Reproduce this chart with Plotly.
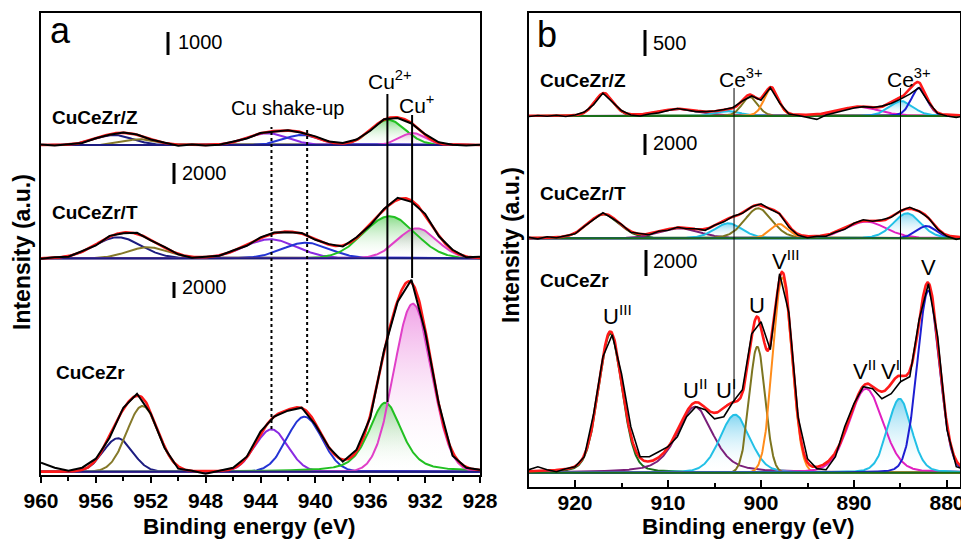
import numpy as np
import plotly.graph_objects as go

# ======================= DATA =======================
# ---- Panel a : Cu 2p region (binding energy, eV) ----
a_energy = list(range(960, 927, -1))            # 960 ... 928 eV
a_Z_counts = [20, -20, 35, 85, 295, 445, 545, 455, 240, 100, -35, 20, -25, 15, 140, 285,
              520, 585, 645, 535, 375, 150, 85, 240, 620, 1120, 1175, 935, 470, 120, 15, -20, 15]
a_T_counts = [-50, 95, 145, 715, 1220, 2140, 2380, 2430, 1715, 1095, 380, 50, 170, 240, 745, 1190,
              2000, 2455, 2475, 2420, 1760, 1350, 1125, 2000, 3140, 4710, 5760, 5380, 4240, 2095, 810, 95, 145]
a_C_counts = [1125, 500, 125, 500, 1625, 4250, 8000, 9750, 7250, 3000, 375, 125, -250, 125, 500, 1875,
              5000, 6875, 7625, 8000, 5875, 3000, 1250, 2750, 6750, 15125, 21250, 24000, 17500, 8500, 2000, 500, 250]

# fitted components (order: 2p1/2 a, 2p1/2 b, sat 1, sat 2, Cu2+, Cu+)
a_Z_center = [954.7, 952.8, 943.5, 941.0, 934.7, 932.9]
a_Z_height = [435, 250, 510, 435, 1090, 520]
a_Z_fwhm = [3.2, 2.8, 3.5, 3.0, 3.0, 2.2]
a_Z_mix = [0, 0, 0, 0, 0, 0]

a_T_center = [954.4, 952.2, 943.3, 940.7, 934.6, 932.6]
a_T_height = [2000, 1050, 1810, 1485, 4000, 2855]
a_T_fwhm = [4.0, 3.5, 4.5, 4.0, 4.4, 3.4]
a_T_mix = [0, 0, 0, 0, 0, 0]

a_C_center = [954.4, 952.6, 943.2, 940.8, 934.9, 932.9]
a_C_height = [4175, 8210, 5300, 6875, 8625, 21000]
a_C_fwhm = [2.5, 2.7, 2.8, 3.0, 2.8, 3.2]
a_C_mix = [0, 0, 0, 0, 0.5, 0]

# ---- Panel b : Ce 3d region ----
b_energy = list(range(925, 877, -1))            # 925 ... 878 eV
b_Z_counts = [-10, 10, -5, 15, -10, 20, 75, 220, 440, 270, 105, 20, 0, 40, 60, 105, 145, 115, 85, 85,
              95, 125, 165, 290, 385, 305, 545, 250, 40, 10, -30, -65, 20, 65, 115, 155, 180, 165, 190,
              240, 325, 420, 545, 270, 50, 0, -30, 10]
b_T_counts = [95, -50, 145, 50, 240, 430, 1140, 1760, 2430, 1905, 1335, 570, 430, 335, 665, 760, 1045,
              905, 905, 760, 1240, 1570, 2095, 2380, 3000, 3285, 2760, 2335, 1045, 285, 50, 190, 190,
              570, 855, 1430, 1760, 1620, 1760, 2000, 2620, 2950, 2570, 1950, 855, 190, -95, 95]
b_C_counts = [230, 460, 230, 75, 310, 460, 1230, 4540, 8920, 10610, 7610, 3540, 1230, 1230, 1615, 2000,
              2770, 4310, 5075, 4845, 4150, 4310, 5460, 6380, 10690, 11610, 9460, 15300, 12300, 4230,
              1075, 310, 230, 1230, 3540, 5310, 6610, 6460, 5690, 6075, 7000, 7380, 11770, 14530,
              10460, 3310, 460, 230]

# components: U''', U'', U', U, V''', V'', V', V
b_Z_center = [916.9, 908.7, 903.5, 901.2, 898.9, 889.4, 884.9, 883.0]
b_Z_height = [436, 134, 96, 365, 528, 173, 288, 538]
b_Z_fwhm = [2.4, 5.0, 3.0, 2.0, 1.8, 5.0, 3.0, 2.0]
b_Z_mix = [0.2, 0.3, 0.2, 0.2, 0.2, 0.3, 0.2, 0.2]

b_T_center = [916.9, 908.7, 903.5, 900.3, 898.0, 888.7, 884.3, 882.2]
b_T_height = [2285, 950, 1430, 2855, 1360, 1590, 2380, 1170]
b_T_fwhm = [4.0, 5.0, 3.5, 3.5, 2.3, 5.0, 3.5, 2.5]
b_T_mix = [0.2, 0.2, 0.2, 0.2, 0.2, 0.2, 0.2, 0.2]

b_C_center = [916.2, 907.1, 902.8, 900.4, 897.7, 888.7, 885.1, 882.0]
b_C_height = [10690, 5075, 4460, 9690, 15000, 6460, 5690, 14000]
b_C_fwhm = [3.0, 4.5, 3.8, 2.0, 2.4, 4.3, 3.0, 2.8]
b_C_mix = [0.2, 0.5, 0.2, 0.0, 0.0, 0.2, 0.2, 0.1]

sample_names = ["CuCeZr/Z", "CuCeZr/T", "CuCeZr"]
a_scale_bar_counts = [1000, 2000, 2000]
b_scale_bar_counts = [500, 2000, 2000]
a_tick_labels = ["960", "956", "952", "948", "944", "940", "936", "932", "928"]
b_tick_labels = ["920", "910", "900", "890", "880"]

# ======================= STYLE / LAYOUT =======================
W, H = 961, 540
FONT = "Liberation Sans, Arial, Helvetica, sans-serif"

# display scaling (pixels of axis per count) and vertical offsets of the stacked spectra
a_scale = [0.023, 0.0105, 0.008]
a_offset = [330, 216.7, 3.3]
b_scale = [0.052, 0.0105, 0.013]
b_offset = [371, 248.7, 14.3]

a_colors = ["#1c1c80", "#85792a", "#8a2be2", "#2434d4", "#22c022", "#e040c8"]
a_fills = [
    [None, None, None, None, "rgba(40,190,40,0.55)", "rgba(225,70,205,0.40)"],
    [None, None, None, None, "rgba(40,190,40,0.55)", "rgba(140,140,140,0.55)"],
    [None, None, None, None, "rgba(40,190,40,0.55)", "rgba(225,70,205,0.50)"],
]
b_colors = ["#1a6e1a", "#7a1f7a", "#22c0e6", "#7d7520", "#ff8c1a", "#e020c0", "#22c0e6", "#1e1ed2"]
cy = "rgba(30,180,230,0.55)"
b_fills = [[None, None, cy, None, None, None, cy, None]] * 3


def pv(x, c, h, w, m):
    d = (x - c) / w
    return h * ((1 - m) * np.exp(-4 * np.log(2) * d ** 2) + m / (1 + 4 * d ** 2))


fig = go.Figure()


def add_spectrum(xa, ya, grid, energy, counts, centers, heights, fwhms, mixes,
                 colors, fills, offset, scale, base_color, exp_width):
    base = np.full_like(grid, offset)
    curves = []
    for c, h, w, m in zip(centers, heights, fwhms, mixes):
        curves.append(pv(grid, c, h, w, m))
    total = np.sum(curves, axis=0)
    for y, fc in zip(curves, fills):
        if fc:
            fig.add_trace(go.Scatter(
                x=np.r_[grid, grid[::-1]], y=np.r_[offset + y * scale, base[::-1]],
                fill="toself", mode="none",
                fillgradient=dict(type="vertical",
                                  colorscale=[[0, "rgba(255,255,255,0)"], [1, fc]]),
                xaxis=xa, yaxis=ya, hoverinfo="skip", showlegend=False))
    for y, col in zip(curves, colors):
        fig.add_trace(go.Scatter(x=grid, y=offset + y * scale, mode="lines",
                                 line=dict(color=col, width=2), xaxis=xa, yaxis=ya,
                                 hoverinfo="skip", showlegend=False))
    fig.add_trace(go.Scatter(x=grid, y=base, mode="lines", line=dict(color=base_color, width=2),
                             xaxis=xa, yaxis=ya, hoverinfo="skip", showlegend=False))
    fig.add_trace(go.Scatter(x=grid, y=offset + total * scale, mode="lines",
                             line=dict(color="#ff1a1a", width=2.6), xaxis=xa, yaxis=ya,
                             hoverinfo="skip", showlegend=False))
    fig.add_trace(go.Scatter(x=energy, y=offset + np.array(counts) * scale, mode="lines",
                             line=dict(color="black", width=exp_width), xaxis=xa, yaxis=ya,
                             hoverinfo="skip", showlegend=False))


grid_a = np.linspace(928, 960, 641)
grid_b = np.linspace(878, 925, 941)

a_sets = [
    (a_Z_counts, a_Z_center, a_Z_height, a_Z_fwhm, a_Z_mix),
    (a_T_counts, a_T_center, a_T_height, a_T_fwhm, a_T_mix),
    (a_C_counts, a_C_center, a_C_height, a_C_fwhm, a_C_mix),
]
for i, (cnt, c, h, w, m) in enumerate(a_sets):
    add_spectrum("x", "y", grid_a, a_energy, cnt, c, h, w, m, a_colors, a_fills[i],
                 a_offset[i], a_scale[i], "#1c1c80", 2)

b_sets = [
    (b_Z_counts, b_Z_center, b_Z_height, b_Z_fwhm, b_Z_mix),
    (b_T_counts, b_T_center, b_T_height, b_T_fwhm, b_T_mix),
    (b_C_counts, b_C_center, b_C_height, b_C_fwhm, b_C_mix),
]
for i, (cnt, c, h, w, m) in enumerate(b_sets):
    add_spectrum("x2", "y2", grid_b, b_energy, cnt, c, h, w, m, b_colors, b_fills[i],
                 b_offset[i], b_scale[i], "#1a6e1a", 1.6)


def px(x):
    return x / W


def py(y):
    return 1 - y / H


# -------- axes --------
ax_common = dict(showline=True, linecolor="black", linewidth=2, mirror=True,
                 showgrid=False, zeroline=False, automargin=False)
fig.update_layout(
    xaxis=dict(domain=[px(41), px(480)], range=[960, 928], anchor="y",
               tickmode="array", tickvals=[int(t) for t in a_tick_labels], ticktext=a_tick_labels,
               ticks="outside", ticklen=6, tickwidth=2, tickcolor="black",
               minor=dict(ticks="outside", ticklen=4, tickwidth=1.5, tickcolor="black",
                          tickmode="linear", tick0=928, dtick=2),
               ticklabeloverflow="allow",
               tickfont=dict(family=FONT, size=21, color="black", weight="bold"), **ax_common),
    yaxis=dict(domain=[1 - 475 / H, 1 - 13 / H], range=[0, 462], anchor="x",
               showticklabels=False, ticks="", **ax_common),
    xaxis2=dict(domain=[px(529), px(960)], range=[924.95, 878.6], anchor="y2",
                tickmode="array", tickvals=[int(t) for t in b_tick_labels], ticktext=b_tick_labels,
                ticks="inside", ticklen=7, tickwidth=2, tickcolor="black",
                minor=dict(ticks="inside", ticklen=4, tickwidth=1.5, tickcolor="black",
                           tickmode="linear", tick0=880, dtick=5),
                ticklabelstandoff=-4, ticklabeloverflow="allow",
                tickfont=dict(family=FONT, size=21, color="black", weight="bold"), **ax_common),
    yaxis2=dict(domain=[1 - 487 / H, 1 - 13 / H], range=[0, 474], anchor="x2",
                showticklabels=False, ticks="", **ax_common),
    width=W, height=H, margin=dict(l=0, r=0, t=0, b=0, pad=0, autoexpand=False),
    paper_bgcolor="white", plot_bgcolor="white", showlegend=False,
    font=dict(family=FONT, color="black"),
)

shapes = []
# scale bars (length = bar counts * display scale)
a_bar_px = [168, 174, 174]
a_bar_bottom = [420, 291, 177]
for i in range(3):
    shapes.append(dict(type="line", xref="paper", yref="y", x0=px(a_bar_px[i]), x1=px(a_bar_px[i]),
                       y0=a_bar_bottom[i], y1=a_bar_bottom[i] + a_scale_bar_counts[i] * a_scale[i],
                       line=dict(color="black", width=3)))
b_bar_px = [645, 645, 646]
b_bar_bottom = [431, 332, 211]
for i in range(3):
    shapes.append(dict(type="line", xref="paper", yref="y2", x0=px(b_bar_px[i]), x1=px(b_bar_px[i]),
                       y0=b_bar_bottom[i], y1=b_bar_bottom[i] + b_scale_bar_counts[i] * b_scale[i],
                       line=dict(color="black", width=3)))
# reference lines panel a
shapes += [
    dict(type="line", xref="x", yref="y", x0=943.2, x1=943.2, y0=46, y1=348,
         line=dict(color="black", width=2, dash="dot")),
    dict(type="line", xref="x", yref="y", x0=940.6, x1=940.6, y0=72, y1=348,
         line=dict(color="black", width=2, dash="dot")),
    dict(type="line", xref="x", yref="y", x0=934.75, x1=934.75, y0=73, y1=381,
         line=dict(color="black", width=2)),
    dict(type="line", xref="x", yref="y", x0=932.95, x1=932.95, y0=197, y1=360,
         line=dict(color="black", width=2)),
    # panel b Ce3+ lines
    dict(type="line", xref="x2", yref="y2", x0=902.9, x1=902.9, y0=85, y1=399,
         line=dict(color="black", width=1)),
    dict(type="line", xref="x2", yref="y2", x0=885.0, x1=885.0, y0=104, y1=399,
         line=dict(color="black", width=1)),
]
fig.update_layout(shapes=shapes)

ann = []


def txt(text, x, y, size, anchor="center", bold=False, angle=0):
    ann.append(dict(text=("<b>%s</b>" % text) if bold else text, x=px(x), y=py(y),
                    xref="paper", yref="paper", xanchor=anchor, yanchor="middle",
                    showarrow=False, textangle=angle,
                    font=dict(family=FONT, size=size, color="black")))


# panel letters
txt("a", 60, 30, 36)
txt("b", 547, 34, 36)
# scale bar labels
txt(str(a_scale_bar_counts[0]), 176, 42, 20, "left")
txt(str(a_scale_bar_counts[1]), 180, 173, 20, "left")
txt(str(a_scale_bar_counts[2]), 180, 287, 20, "left")
txt(str(b_scale_bar_counts[0]), 651, 43, 20, "left")
txt(str(b_scale_bar_counts[1]), 651, 143, 20, "left")
txt(str(b_scale_bar_counts[2]), 651, 261, 20, "left")
# sample names
txt(sample_names[0], 50, 117, 19, "left", True)
txt(sample_names[1], 50, 213, 19, "left", True)
txt(sample_names[2], 54, 372, 19, "left", True)
txt(sample_names[0], 538, 80, 19, "left", True)
txt(sample_names[1], 538, 193, 19, "left", True)
txt(sample_names[2], 538, 280, 19, "left", True)
# peak annotations panel a
txt("Cu shake-up", 287, 108, 20)
txt("Cu<sup>2+</sup>", 366, 80, 21, "left")
txt("Cu<sup>+</sup>", 397, 104, 21, "left")
# panel b
txt("Ce<sup>3+</sup>", 717, 78, 21, "left")
txt("Ce<sup>3+</sup>", 885, 78, 21, "left")
txt("U<sup>III</sup>", 601, 315, 22, "left")
txt("U<sup>II</sup>", 681, 389, 22, "left")
txt("U<sup>I</sup>", 714, 389, 22, "left")
txt("U", 747, 305, 22, "left")
txt("V<sup>III</sup>", 770, 260, 22, "left")
txt("V<sup>II</sup>", 851, 370, 22, "left")
txt("V<sup>I</sup>", 879, 370, 22, "left")
txt("V", 919, 268, 22, "left")
# axis titles
txt("Binding energy (eV)", 250, 526, 22.5, bold=True)
txt("Binding energy (eV)", 748, 526, 22.5, bold=True)
txt("Intensity (a.u.)", 22, 252, 23, bold=True, angle=-90)
txt("Intensity (a.u.)", 511, 245, 23, bold=True, angle=-90)
fig.update_layout(annotations=ann)

fig.write_html("out.html", config={"displayModeBar": False},
               post_script="document.body.style.margin='0px';")
